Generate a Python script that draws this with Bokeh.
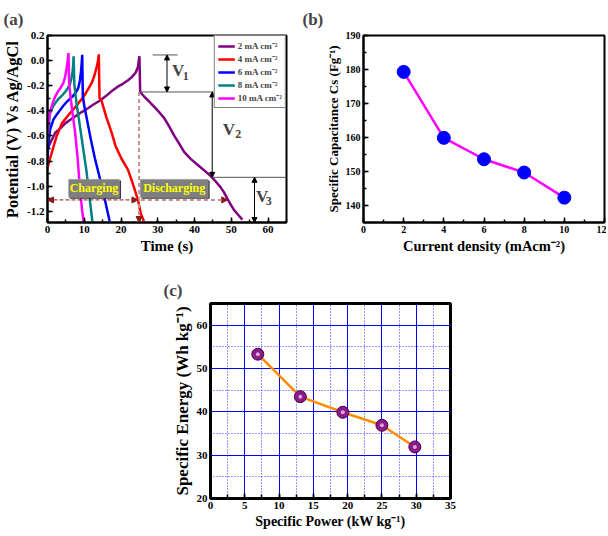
from bokeh.plotting import figure
from bokeh.layouts import column, row
from bokeh.models import (SingleIntervalTicker, PrintfTickFormatter, Arrow, NormalHead,
                          Label, BoxAnnotation, Legend, LegendItem)
from bokeh.embed import file_html
from bokeh.resources import INLINE

FONT = "Liberation Serif"

# ---------------- Panel (a) data: galvanostatic charge/discharge ----------------
t_2mA = [0, 0.5, 1.2, 2.1, 3.5, 4.8, 6.5, 8.0, 9.3, 11.0, 12.5, 14.2, 15.8, 17.4, 19.0,
         20.5, 22.0, 23.0, 24.0, 24.6, 25.0, 25.2, 26.4, 27.8, 29.1, 30.5, 31.8, 33.2,
         34.5, 35.9, 37.2, 39.0, 40.8, 42.6, 44.4, 45.8, 47.1, 48.0, 48.9, 49.8, 50.7,
         51.9, 53.0]
v_2mA = [-0.70, -0.67, -0.63, -0.575, -0.54, -0.50, -0.465, -0.435, -0.41, -0.38, -0.35,
         -0.32, -0.285, -0.245, -0.21, -0.185, -0.155, -0.13, -0.095, -0.05, 0.035, -0.25,
         -0.29, -0.33, -0.37, -0.415, -0.46, -0.53, -0.60, -0.665, -0.73, -0.785, -0.83,
         -0.875, -0.92, -0.965, -1.01, -1.05, -1.10, -1.145, -1.19, -1.23, -1.267]

t_4mA = [0, 0.5, 1.2, 2.5, 3.9, 5.0, 6.1, 7.3, 8.4, 9.3, 10.2, 11.1, 12.0, 12.7, 13.3,
         13.7, 13.95, 14.15, 14.7, 15.3, 16.0, 16.7, 17.4, 18.5, 20.1, 21.9, 23.2, 24.6,
         25.4, 26.2]
v_4mA = [-0.857, -0.80, -0.73, -0.60, -0.50, -0.46, -0.42, -0.38, -0.34, -0.305, -0.27,
         -0.225, -0.18, -0.125, -0.06, -0.01, 0.05, -0.30, -0.32, -0.38, -0.45, -0.51,
         -0.57, -0.68, -0.78, -0.87, -0.98, -1.11, -1.22, -1.28]

t_6mA = [0, 0.2, 0.7, 1.6, 2.5, 3.4, 4.3, 5.2, 6.1, 7.0, 7.8, 8.4, 8.8, 9.1, 9.3, 9.45,
         9.6, 10.0, 10.6, 11.2, 11.8, 12.9, 14.0, 15.1, 16.0, 16.9]
v_6mA = [-0.78, -0.68, -0.55, -0.47, -0.43, -0.395, -0.36, -0.33, -0.305, -0.28, -0.25,
         -0.215, -0.16, -0.09, -0.02, 0.046, -0.28, -0.36, -0.45, -0.54, -0.63, -0.78,
         -0.91, -1.04, -1.16, -1.28]

t_8mA = [0, 0.3, 0.7, 1.6, 2.3, 3.0, 3.9, 4.8, 5.5, 6.1, 6.5, 6.8, 7.0, 7.1, 7.3, 7.9,
         8.8, 9.7, 10.6, 11.3, 12.2]
v_8mA = [-0.66, -0.52, -0.42, -0.36, -0.33, -0.305, -0.28, -0.25, -0.22, -0.19, -0.14,
         -0.09, -0.03, 0.035, -0.19, -0.34, -0.52, -0.70, -0.88, -1.06, -1.28]

t_10mA = [0, 0.2, 0.7, 1.6, 2.3, 3.0, 3.7, 4.3, 4.8, 5.2, 5.5, 5.7, 5.9, 6.6, 7.5, 8.2,
          8.8, 9.4, 9.8]
v_10mA = [-0.60, -0.50, -0.41, -0.32, -0.275, -0.24, -0.21, -0.18, -0.13, -0.06, 0.0,
          0.06, -0.19, -0.37, -0.57, -0.78, -1.01, -1.19, -1.28]

series_labels = ["2 mA cm\u207b\u00b2", "4 mA cm\u207b\u00b2", "6 mA cm\u207b\u00b2",
                 "8 mA cm\u207b\u00b2", "10 mA cm\u207b\u00b2"]
series_colors = ["#800080", "#ff0000", "#0000ff", "#008080", "#ff00ff"]

# annotation level (panel a)
V2_END = -0.93

# ---------------- Panel (b) data ----------------
current_density = [2, 4, 6, 8, 10]
capacitance = [179.3, 159.9, 153.6, 149.7, 142.3]

# ---------------- Panel (c) data ----------------
spec_power = [6.9, 13.1, 19.3, 25.0, 29.8]
spec_energy = [53.3, 43.5, 39.9, 36.9, 31.9]


def style(p, tick_size, xlab_size, ylab_size):
    p.outline_line_color = "black"
    p.outline_line_width = 2
    p.border_fill_color = "white"
    p.background_fill_color = "white"
    for ax in (p.xaxis[0], p.yaxis[0]):
        ax.axis_line_color = "black"
        ax.axis_line_width = 2
        ax.major_tick_in = 5
        ax.major_tick_out = 0
        ax.minor_tick_in = 3
        ax.minor_tick_out = 0
        ax.major_tick_line_width = 1.5
        ax.minor_tick_line_width = 1.5
        ax.major_label_text_font = FONT
        ax.major_label_text_font_style = "bold"
        ax.major_label_text_font_size = tick_size
        ax.major_label_standoff = 3
        ax.axis_label_text_font = FONT
        ax.axis_label_text_font_style = "bold"
        ax.axis_label_standoff = 2
        ax.axis_label_text_color = "black"
        ax.major_label_text_color = "black"
    p.xaxis[0].axis_label_text_font_size = xlab_size
    p.yaxis[0].axis_label_text_font_size = ylab_size
    p.title.text_font = FONT
    p.title.text_font_style = "bold"
    p.title.text_font_size = "17px"
    p.title.align = "left"


# ================= Panel (a) =================
pa = figure(width=300, height=262, x_range=(0, 65), y_range=(-1.29, 0.2),
            output_backend="svg", toolbar_location=None, title="(a)",
            min_border_left=46, min_border_right=14, min_border_top=28, min_border_bottom=38)
pa.xaxis.axis_label = "Time (s)"
pa.yaxis.axis_label = "Potential (V) Vs Ag/AgCl"
pa.xaxis.ticker = SingleIntervalTicker(interval=10, num_minor_ticks=2)
pa.yaxis.ticker = SingleIntervalTicker(interval=0.2, num_minor_ticks=2)
pa.yaxis.formatter = PrintfTickFormatter(format="%.1f")
pa.grid.visible = False
style(pa, "11px", "15px", "16.5px")
pa.title.offset = -44
pa.title.standoff = 14

renderers = []
for t, v, c in zip([t_2mA, t_4mA, t_6mA, t_8mA, t_10mA],
                   [v_2mA, v_4mA, v_6mA, v_8mA, v_10mA], series_colors):
    renderers.append(pa.line(t, v, line_color=c, line_width=2.5))

# V1/V2/V3 levels derived from the 2 mA curve
i_peak = v_2mA.index(max(v_2mA))
t_peak = t_2mA[i_peak]
v_top = v_2mA[i_peak]
v_drop = v_2mA[i_peak + 1]
v_bottom = -1.29

# thin reference lines
pa.segment(x0=[28.6, t_peak, 44.7], y0=[v_top + 0.01, v_drop, V2_END],
           x1=[35.4, 65, 65], y1=[v_top + 0.01, v_drop, V2_END],
           line_color="#555555", line_width=1)

head = dict(size=5, fill_color="black", line_color="black")
for xa, y0, y1 in [(32.5, v_top + 0.01, v_drop), (44.8, v_drop, V2_END), (56.3, V2_END, v_bottom)]:
    pa.add_layout(Arrow(x_start=xa, y_start=y0, x_end=xa, y_end=y1, line_width=1,
                        line_color="black", start=NormalHead(**head), end=NormalHead(**head)))

dhead = dict(size=6, fill_color="#8b1a1a", line_color="#8b1a1a")
pa.add_layout(Arrow(x_start=t_peak - 0.1, y_start=v_drop, x_end=t_peak - 0.1, y_end=v_bottom,
                    line_color="#c98f8f", line_width=2, line_dash="4 3",
                    end=NormalHead(**dhead)))
pa.add_layout(Arrow(x_start=0, y_start=-1.11, x_end=t_peak - 0.4, y_end=-1.11,
                    line_color="#8b1a1a", line_width=1, line_dash="4 2",
                    start=NormalHead(**dhead), end=NormalHead(**dhead)))
pa.add_layout(Arrow(x_start=t_peak + 0.4, y_start=-1.11, x_end=49, y_end=-1.11,
                    line_color="#c98f8f", line_width=2, line_dash="4 3",
                    end=NormalHead(**dhead)))

for l, r, txt in [(5.7, 19.6, "Charging"), (25.2, 43.7, "Discharging")]:
    pa.add_layout(BoxAnnotation(left=l + 0.4, right=r + 0.4, top=-0.955, bottom=-1.1,
                                fill_color="#3a3a3a", fill_alpha=1, line_color=None))
    pa.add_layout(BoxAnnotation(left=l, right=r, top=-0.945, bottom=-1.09,
                                fill_color="#7f7f7f", fill_alpha=1, line_color="#bbbbbb",
                                line_width=1))
    pa.add_layout(Label(x=(l + r) / 2, y=-1.018, text=txt, text_align="center",
                        text_baseline="middle", text_color="#ffff00", text_font=FONT,
                        text_font_style="bold", text_font_size="12px"))

for (xv, yv, xs, ys, sub) in [(35.5, -0.082, 37.6, -0.12, "1"), (49.3, -0.55, 51.9, -0.585, "2"),
                              (58.4, -1.08, 60.2, -1.115, "3")]:
    pa.add_layout(Label(x=xv, y=yv, text="V", text_align="center", text_baseline="middle",
                        text_font=FONT, text_font_style="bold", text_font_size="17px"))
    pa.add_layout(Label(x=xs, y=ys, text=sub, text_align="center", text_baseline="middle",
                        text_font=FONT, text_font_style="bold", text_font_size="12px"))

legend = Legend(items=[LegendItem(label=lab, renderers=[r]) for lab, r in zip(series_labels, renderers)],
                location="top_right", margin=0, padding=3, spacing=0,
                border_line_color="black", border_line_width=1, background_fill_alpha=1,
                label_text_font=FONT, label_text_font_style="bold", label_text_font_size="9px",
                glyph_width=17, glyph_height=12, label_height=12, label_standoff=3)
pa.add_layout(legend)

# ================= Panel (b) =================
pb = figure(width=306, height=262, x_range=(0, 12), y_range=(135, 190),
            output_backend="svg", toolbar_location=None, title="(b)",
            min_border_left=63, min_border_right=2, min_border_top=27, min_border_bottom=40)
pb.xaxis.axis_label = "Current density (mAcm\u207b\u00b2)"
pb.yaxis.axis_label = "Specific Capacitance Cs (Fg\u207b\u00b9)"
pb.xaxis.ticker = SingleIntervalTicker(interval=2, num_minor_ticks=2)
pb.yaxis.ticker = SingleIntervalTicker(interval=10, num_minor_ticks=2)
pb.grid.visible = False
style(pb, "10px", "14.5px", "13px")
pb.title.offset = -61
pb.title.standoff = 14
pb.line(current_density, capacitance, line_color="#ff00ff", line_width=2.5)
pb.scatter(current_density, capacitance, size=13, fill_color="#0000ff", line_color="#0000ee")

# ================= Panel (c) =================
pc = figure(width=462, height=273, x_range=(0, 35), y_range=(20, 65),
            output_backend="svg", toolbar_location=None, title="(c)",
            min_border_left=210, min_border_right=12, min_border_top=41, min_border_bottom=37)
pc.xaxis.axis_label = "Specific Power (kW kg\u207b\u00b9)"
pc.yaxis.axis_label = "Specific Energy (Wh kg\u207b\u00b9)"
pc.xaxis.ticker = SingleIntervalTicker(interval=5, num_minor_ticks=2)
pc.yaxis.ticker = SingleIntervalTicker(interval=10, num_minor_ticks=2)
pc.xgrid.ticker = pc.xaxis.ticker
pc.ygrid.ticker = pc.yaxis.ticker
style(pc, "11px", "14px", "17px")
pc.outline_line_width = 3
pc.title.offset = -47
pc.title.standoff = 7
for g in (pc.xgrid[0], pc.ygrid[0]):
    g.grid_line_color = "#0000ff"
    g.grid_line_width = 1
    g.minor_grid_line_color = "#3333ff"
    g.minor_grid_line_dash = "1 2"
    g.minor_grid_line_width = 1
pc.xaxis.minor_tick_in = 4
pc.yaxis.major_tick_in = 0
pc.yaxis.minor_tick_in = 0
pc.line(spec_power, spec_energy, line_color="#ff8c00", line_width=2.5)
pc.scatter(spec_power, spec_energy, size=12, fill_color="#8b1a8b", line_color="#4a004a",
           line_width=1)
pc.scatter(spec_power, spec_energy, size=4, fill_color="#d9a6d9", line_color=None)

layout = column(row(pa, pb), pc)
open("out.html", "w").write(file_html(layout, INLINE))
